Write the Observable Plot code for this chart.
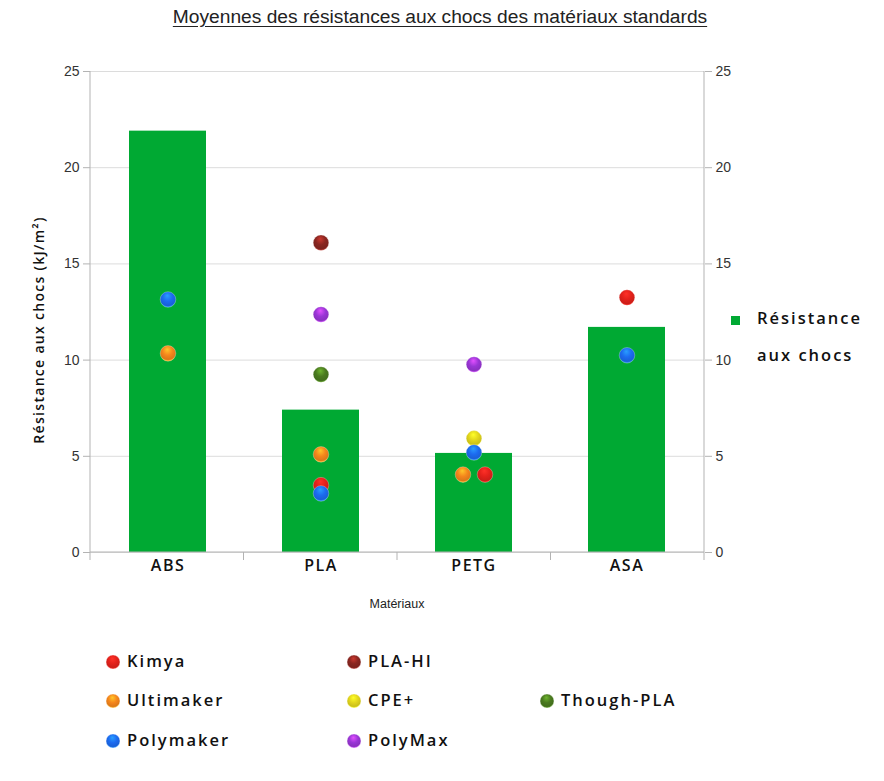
<!DOCTYPE html>
<html><head><meta charset="utf-8">
<script src="https://cdn.jsdelivr.net/npm/d3@7"></script>
<script src="https://cdn.jsdelivr.net/npm/@observablehq/plot@0.6"></script>
<style>
body{margin:0;background:#fff;}
#wrap{position:relative;width:884px;height:781px;font-family:"Liberation Sans",Arial,sans-serif;overflow:hidden;}
#title{position:absolute;left:0;width:880px;top:6px;text-align:center;font-size:19.2px;color:#222;text-decoration:underline;text-underline-offset:3px;}
#chart{position:absolute;left:0;top:40px;}
#ylab{position:absolute;left:38px;top:330px;transform:translate(-50%,-50%) rotate(-90deg);white-space:nowrap;font-family:"Open Sans";font-weight:600;font-size:14px;letter-spacing:1.3px;color:#111;}
#xlab{position:absolute;left:397px;top:597px;transform:translateX(-50%);font-size:12.5px;color:#222;}
.leg{position:absolute;font-family:"Open Sans";font-weight:600;font-size:16.5px;letter-spacing:2px;color:#111;white-space:nowrap;}
.legsw{position:absolute;}
#chart svg g[aria-label="x-axis tick label"] text{letter-spacing:1.5px;font-family:"Open Sans";font-weight:600;}
</style></head><body>
<svg width="0" height="0" style="position:absolute"><defs id="defs"></defs></svg>
<div id="wrap">
<div id="title">Moyennes des résistances aux chocs des matériaux standards</div>
<div id="chart"></div>
<div id="ylab">Résistance aux chocs (kJ/m²)</div>
<div id="xlab">Matériaux</div>
</div>
<script>
const materials = ["ABS", "PLA", "PETG", "ASA"];
const averages = [21.9, 7.4, 5.15, 11.7];
const seriesName = "Résistance aux chocs";
const yTicks = [0, 5, 10, 15, 20, 25];

const brands = ["Kimya", "Ultimaker", "Polymaker", "PLA-HI", "CPE+", "PolyMax", "Though-PLA"];
const brandColors = ["#e3211b", "#f5861c", "#1c6bf0", "#8a2620", "#e2d61c", "#9a36d6", "#4a7a1f"];
// values per brand, aligned with materials (null = no measure)
const kimyaValues      = [null, 3.5, 4.05, 13.25];
const ultimakerValues  = [10.35, 5.1, 4.05, null];
const polymakerValues  = [13.15, 3.07, 5.2, 10.25];
const plaHiValues      = [null, 16.1, null, null];
const cpeValues        = [null, null, 5.93, null];
const polyMaxValues    = [null, 12.37, 9.77, null];
const thoughPlaValues  = [null, 9.25, null, null];

// legend layout of the brands (column, row)
const legendCols = [0, 0, 0, 1, 1, 1, 2];
const legendRows = [0, 1, 2, 0, 1, 2, 1];

const brandValues = {
  "Kimya": kimyaValues, "Ultimaker": ultimakerValues, "Polymaker": polymakerValues,
  "PLA-HI": plaHiValues, "CPE+": cpeValues, "PolyMax": polyMaxValues, "Though-PLA": thoughPlaValues
};
const drawOrder = ["Kimya", "Ultimaker", "PLA-HI", "CPE+", "PolyMax", "Though-PLA", "Polymaker"];

const barRows = materials.map((m, i) => ({material: m, value: averages[i]}));
const points = [];
for (const b of drawOrder) brandValues[b].forEach((v, i) => { if (v != null) points.push({material: materials[i], brand: b, value: v}); });

// glossy gradients
const defs = d3.select("#defs");
brands.forEach((b, i) => {
  const c = d3.color(brandColors[i]);
  const g = defs.append("radialGradient").attr("id", "grad" + i).attr("cx", "50%").attr("cy", "38%").attr("r", "62%").attr("fx", "45%").attr("fy", "25%");
  g.append("stop").attr("offset", "0%").attr("stop-color", c.brighter(1.1).formatHex());
  g.append("stop").attr("offset", "50%").attr("stop-color", c.formatHex());
  g.append("stop").attr("offset", "85%").attr("stop-color", c.darker(0.3).formatHex());
  g.append("stop").attr("offset", "100%").attr("stop-color", c.brighter(0.9).formatHex());
});

const isShifted = (d, b) => d.material === "PETG" && d.brand === b;
const dotOpts = {x: "material", y: "value", fill: "brand", r: 7.8, stroke: "#ffffff", strokeOpacity: 0.35, strokeWidth: 0.8};

const chart = Plot.plot({
  width: 884, height: 585,
  marginLeft: 90, marginRight: 180, marginTop: 31, marginBottom: 73,
  style: {fontFamily: "Liberation Sans, Arial, sans-serif", fontSize: "14px", background: "transparent", overflow: "visible"},
  x: {domain: materials, paddingInner: 0.5, paddingOuter: 0.25, label: null},
  y: {domain: [0, 25], label: null},
  color: {domain: brands, range: brands.map((b, i) => `url(#grad${i})`)},
  marks: [
    Plot.gridY(yTicks, {stroke: "#dcdcdc", strokeOpacity: 1}),
    Plot.barY(barRows, {x: "material", y: "value", fill: "#00a933"}),
    Plot.axisX({tickSize: 0, tickPadding: 7, fontSize: 16, fill: "#111", label: null}),
    Plot.axisY({anchor: "left", ticks: yTicks, tickSize: 7, tickPadding: 4, stroke: "#b3b3b3", fill: "#333", label: null}),
    Plot.axisY({anchor: "right", ticks: yTicks, tickSize: 7, tickPadding: 4, stroke: "#b3b3b3", fill: "#333", label: null}),
    Plot.dot(points, {...dotOpts, filter: d => !isShifted(d, "Kimya") && !isShifted(d, "Ultimaker") && d.brand !== "Polymaker"}),
    Plot.dot(points, {...dotOpts, filter: d => isShifted(d, "Ultimaker"), dx: -11}),
    Plot.dot(points, {...dotOpts, filter: d => isShifted(d, "Kimya"), dx: 11}),
    Plot.dot(points, {...dotOpts, filter: d => d.brand === "Polymaker"})
  ]
});
document.getElementById("chart").appendChild(chart);

// axis lines and category separators from the chart's scales
const sx = chart.scale("x"), sy = chart.scale("y");
const svg = d3.select(chart);
const [xa, xb] = sx.range;
const yb = sy.apply(0), yt = sy.apply(25);
const lines = svg.insert("g", "g[aria-label='dot']").attr("stroke", "#b3b3b3").attr("stroke-width", 1);
[xa, xb].forEach(x => lines.append("line").attr("x1", x).attr("x2", x).attr("y1", yt).attr("y2", yb + 8));
lines.append("line").attr("x1", xa).attr("x2", xb).attr("y1", yb).attr("y2", yb);
const step = (xb - xa) / materials.length;
for (let i = 1; i < materials.length; i++) {
  const x = xa + step * i;
  lines.append("line").attr("x1", x).attr("x2", x).attr("y1", yb).attr("y2", yb + 8);
}

// series legend (right)
const wrap = d3.select("#wrap");
wrap.append("div").style("position", "absolute").style("left", "731px").style("top", "316px").style("width", "9px").style("height", "9px").style("background", "#00a933");
const words = seriesName.split(" ");
wrap.append("div").attr("class", "leg").style("left", "757px").style("top", "306px").text(words[0]);
wrap.append("div").attr("class", "leg").style("left", "757px").style("top", "343px").text(words.slice(1).join(" "));

// brand legend (bottom)
const colX = [113, 354, 547];
const rowY = [662, 701, 741];
brands.forEach((b, i) => {
  const cx = colX[legendCols[i]], cy = rowY[legendRows[i]];
  const s = wrap.append("svg").attr("class", "legsw").style("left", (cx - 8) + "px").style("top", (cy - 8) + "px").attr("width", 16).attr("height", 16);
  s.append("circle").attr("cx", 8).attr("cy", 8).attr("r", 7).attr("fill", `url(#grad${i})`).attr("stroke", "#fff").attr("stroke-opacity", 0.35);
  wrap.append("div").attr("class", "leg").style("left", (cx + 14) + "px").style("top", (cy - 13) + "px").text(b);
});
</script>
</body></html>
